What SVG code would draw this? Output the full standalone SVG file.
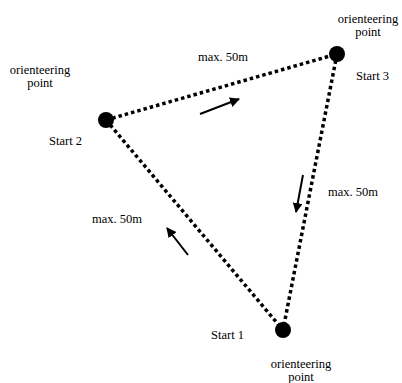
<svg xmlns="http://www.w3.org/2000/svg" width="402" height="383" viewBox="0 0 402 383">
<style>
.t{font-family:"Liberation Serif","Times New Roman",serif;font-size:12.5px;fill:#000}
.m{text-anchor:middle}
.edge{stroke:#000;stroke-width:3.5;stroke-dasharray:3.5 3;fill:none}
.arr{stroke:#000;stroke-width:2;fill:none;marker-end:url(#ah)}
.dot{fill:#000}
</style>
<defs>
<marker id="ah" viewBox="0 0 10 10" refX="9" refY="5" markerWidth="5" markerHeight="5" orient="auto" markerUnits="strokeWidth">
<path d="M0,0 L10,5 L0,10 Z" fill="#000"/>
</marker>
</defs>
<rect width="402" height="383" fill="#fff"/>
<g id="connectors">
<line class="edge" x1="106" y1="120" x2="337" y2="54"/>
<line class="edge" x1="106" y1="120" x2="283" y2="330"/>
<line class="edge" x1="337" y1="54" x2="283" y2="330"/>
<line class="arr" x1="200" y1="114" x2="239" y2="99"/>
<line class="arr" x1="303" y1="175" x2="296" y2="212"/>
<line class="arr" x1="188" y1="255" x2="167" y2="228"/>
</g>
<g id="start3">
<circle class="dot" cx="337" cy="54" r="8"/>
<text class="t m" x="368" y="23">orienteering</text>
<text class="t m" x="368" y="36">point</text>
<text class="t" x="356" y="80">Start 3</text>
</g>
<g id="start2">
<circle class="dot" cx="106" cy="120" r="8"/>
<text class="t m" x="40" y="74">orienteering</text>
<text class="t m" x="40" y="87">point</text>
<text class="t" x="49" y="145">Start 2</text>
</g>
<g id="start1">
<circle class="dot" cx="283" cy="330" r="8"/>
<text class="t" x="211" y="339">Start 1</text>
<text class="t m" x="301" y="368">orienteering</text>
<text class="t m" x="301" y="381">point</text>
</g>
<g id="labels">
<text class="t" x="198" y="61">max. 50m</text>
<text class="t" x="328" y="196">max. 50m</text>
<text class="t" x="92" y="223">max. 50m</text>
</g>
</svg>
